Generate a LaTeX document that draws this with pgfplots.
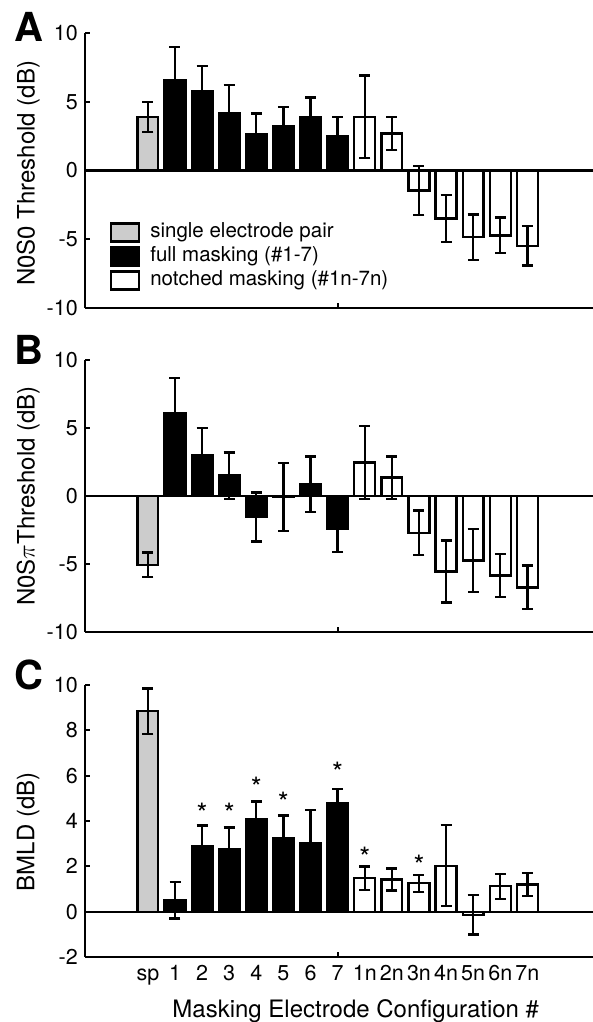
\documentclass[border=0pt]{standalone}
\usepackage{fontspec}
\setmainfont{TeX Gyre Heros}
\usepackage{pgfplots}
\pgfplotsset{compat=1.18}

\newcommand{\tickfont}{\fontsize{21.5}{25}\selectfont}
\newcommand{\labfont}{\fontsize{24}{28}\selectfont}
\definecolor{spgray}{gray}{0.8}

\pgfplotsset{
  panel/.style={
    scale only axis, width=508pt, height=272pt,
    xmin=-2.32, xmax=16.42,
    axis lines=left,
    axis line style={-, line width=2.2pt},
    tick align=inside,
    major tick length=5pt,
    tick style={black, line width=2.2pt},
    xtick={7}, xticklabels={},
    ticklabel style={font=\tickfont},
    yticklabel style={inner sep=0pt, xshift=-7pt},
    ylabel style={font=\labfont, anchor=center},
    clip=false,
  },
  barstyle/.style={ybar, bar width=0.77, bar shift=0pt, draw=black, line width=2.3pt, fill=#1,
    legend image code/.code={\draw[fill=#1, draw=black, line width=2.3pt] (0pt,-9pt) rectangle (28pt,9pt);},
    error bars/.cd, y dir=both, y explicit,
    error bar style={line width=2.3pt, black},
    error mark options={rotate=90, line width=2.3pt, black, mark size=5.5pt}},
  zeroline/.style={black, line width=2.2pt, forget plot},
}

\begin{document}
\begin{tikzpicture}
\path[use as bounding box] (0pt,0pt) rectangle (593pt,1022pt);

% ---------------- Panel A ----------------
\begin{axis}[panel, height=275pt, at={(85pt,714pt)}, anchor=south west,
  ymin=-10, ymax=10, ytick={-10,-5,0,5,10}, yticklabels={-10,-5,0,5,10},
  ylabel={N0S0 Threshold (dB)},
  ylabel style={at={(axis description cs:-0.112,0.49)}},
  legend style={draw=none, fill=none, at={(axis description cs:0.043,0.322)}, anchor=north west,
    font=\fontsize{20.5}{24}\selectfont, nodes={inner sep=1pt, text height=15pt, text depth=5pt},
    row sep=2pt, column sep=9pt},
  legend cell align=left]
\addplot[barstyle=spgray] coordinates {(0,3.9) +- (0,1.1)};
\addplot[barstyle=black] coordinates {
  (1,6.6) +- (0,2.4) (2,5.8) +- (0,1.8) (3,4.2) +- (0,2.0) (4,2.65) +- (0,1.5)
  (5,3.2) +- (0,1.4) (6,3.85) +- (0,1.45) (7,2.5) +- (0,1.4)};
\addplot[barstyle=white] coordinates {
  (8,3.9) +- (0,3.0) (9,2.7) +- (0,1.2) (10,-1.45) +- (0,1.8) (11,-3.5) +- (0,1.72)
  (12,-4.85) +- (0,1.65) (13,-4.72) +- (0,1.3) (14,-5.47) +- (0,1.45)};
\addplot[zeroline] coordinates {(-2.32,0) (16.42,0)};
\legend{single electrode pair, full masking (\#1-7), notched masking (\#1n-7n)}
\end{axis}

% ---------------- Panel B ----------------
\begin{axis}[panel, height=272pt, at={(85pt,390pt)}, anchor=south west,
  ymin=-10, ymax=10, ytick={-10,-5,0,5,10}, yticklabels={-10,-5,0,5,10},
  ylabel={N0S$\pi$Threshold (dB)},
  ylabel style={at={(axis description cs:-0.112,0.5)}}]
\addplot[barstyle=spgray] coordinates {(0,-5.05) +- (0,0.9)};
\addplot[barstyle=black] coordinates {
  (1,6.1) +- (0,2.6) (2,3.0) +- (0,2.0) (3,1.5) +- (0,1.7) (4,-1.55) +- (0,1.8)
  (5,-0.05) +- (0,2.5) (6,0.85) +- (0,2.05) (7,-2.42) +- (0,1.72)};
\addplot[barstyle=white] coordinates {
  (8,2.47) +- (0,2.7) (9,1.35) +- (0,1.55) (10,-2.7) +- (0,1.63) (11,-5.55) +- (0,2.28)
  (12,-4.75) +- (0,2.3) (13,-5.85) +- (0,1.57) (14,-6.72) +- (0,1.6)};
\addplot[zeroline] coordinates {(-2.32,0) (16.42,0)};
\end{axis}

% ---------------- Panel C ----------------
\begin{axis}[panel, height=272pt, at={(85pt,65pt)}, anchor=south west,
  ymin=-2, ymax=10, ytick={-2,0,2,4,6,8,10}, yticklabels={-2,0,2,4,6,8,10},
  ylabel={BMLD (dB)},
  ylabel style={at={(axis description cs:-0.112,0.46)}},
  extra x ticks={0,1,...,14},
  extra x tick labels={sp,1,2,3,4,5,6,7,1n,2n,3n,4n,5n,6n,7n},
  extra x tick style={major tick length=0pt},
  xticklabel style={inner sep=0pt, anchor=north, yshift=-16pt, text height=0.72em, text depth=0pt},
  xlabel={Masking Electrode Configuration \#},
  xlabel style={font=\labfont, at={(axis description cs:0.533,0)}, anchor=base, yshift=-60pt}]
\addplot[barstyle=spgray] coordinates {(0,8.85) +- (0,1.0)};
\addplot[barstyle=black] coordinates {
  (1,0.5) +- (0,0.8) (2,2.9) +- (0,0.9) (3,2.75) +- (0,0.96) (4,4.1) +- (0,0.76)
  (5,3.24) +- (0,1.0) (6,3.03) +- (0,1.46) (7,4.8) +- (0,0.62)};
\addplot[barstyle=white] coordinates {
  (8,1.47) +- (0,0.52) (9,1.42) +- (0,0.49) (10,1.25) +- (0,0.38) (11,2.03) +- (0,1.78)
  (12,-0.14) +- (0,0.87) (13,1.12) +- (0,0.55) (14,1.2) +- (0,0.52)};
\addplot[zeroline] coordinates {(-2.32,0) (16.42,0)};
\addplot[draw=none, mark=none, nodes near coords={*},
  every node near coord/.style={anchor=base, yshift=-16pt, font=\fontsize{28}{32}\selectfont}]
  coordinates {(2,4.58) (3,4.58) (4,5.73) (5,5.07) (7,6.39) (8,2.64) (10,2.29)};
\end{axis}

\node[anchor=base west, inner sep=0pt, font=\fontsize{40}{44}\selectfont\bfseries] at (14pt,980pt) {A};
\node[anchor=base west, inner sep=0pt, font=\fontsize{40}{44}\selectfont\bfseries] at (14pt,657pt) {B};
\node[anchor=base west, inner sep=0pt, font=\fontsize{40}{44}\selectfont\bfseries] at (14pt,332pt) {C};
\end{tikzpicture}
\end{document}
